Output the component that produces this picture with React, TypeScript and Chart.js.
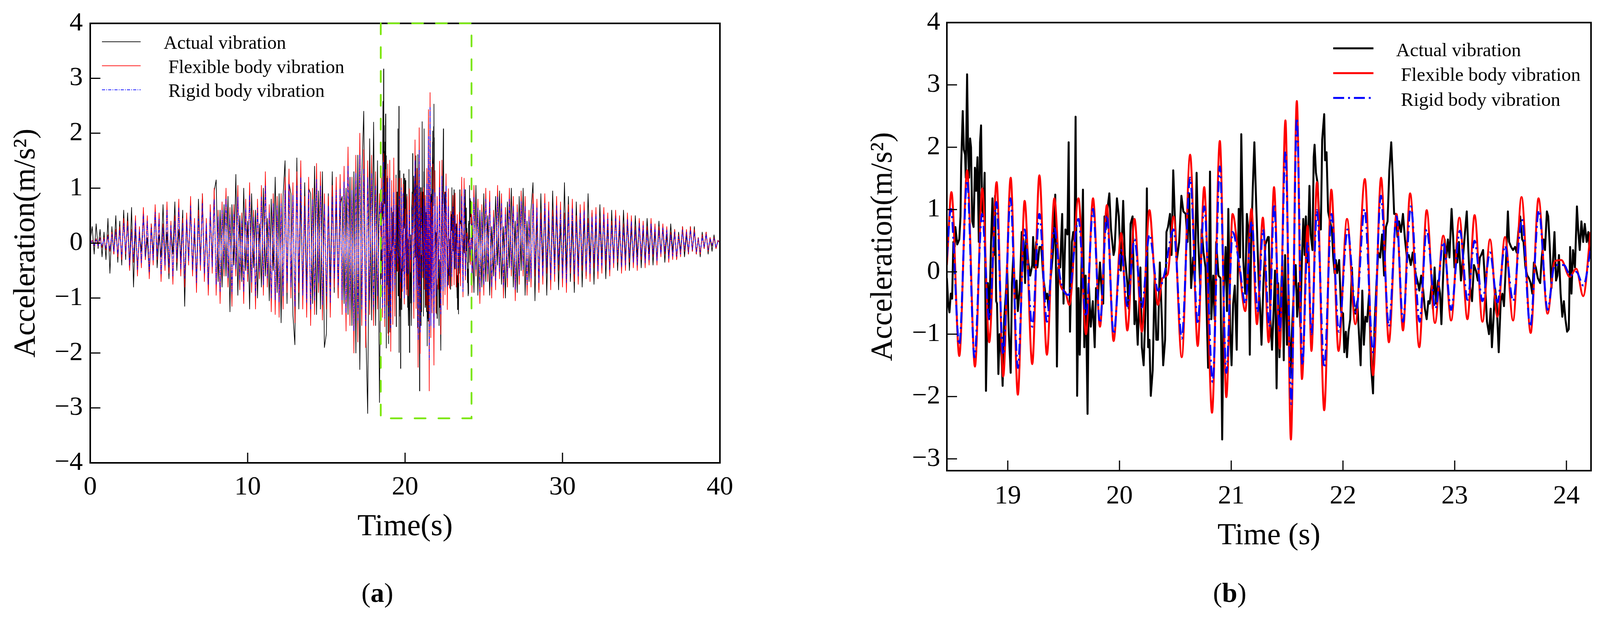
import { useEffect, useRef } from "react"
import { Chart, registerables } from "chart.js"

Chart.register(...registerables)

const SERIF = "'Liberation Serif', 'Times New Roman', serif"
Chart.defaults.font.family = SERIF
Chart.defaults.color = "#000"

const SERIES_LABELS = ["Actual vibration", " Flexible body vibration", " Rigid body vibration"]

// (a) whole record
const A_X_TICKS = [0, 10, 20, 30, 40]
const A_Y_TICKS = [-4, -3, -2, -1, 0, 1, 2, 3, 4]
// (b) zoomed window (also the green box on (a))
const B_X_RANGE = [18.455, 24.22]
const B_Y_RANGE = [-3.19, 4]
const B_X_TICKS = [19, 20, 21, 22, 23, 24]
const B_Y_TICKS = [-3, -2, -1, 0, 1, 2, 3, 4]

// (a) outside the window: read every 0.125 s
const A_STEP = 0.125
const A_HEAD_START = 0
const A_TAIL_START = 24.25

const A_ACTUAL_HEAD = [
  0.05, 0.3, -0.2, 0.35, -0.1, 0.25, -0.25, 0.2,
  -0.3, 0.45, -0.55, 0.3, -0.2, 0.5, -0.35, 0.4,
  -0.4, 0.6, -0.3, 0.55, -0.45, 0.65, -0.8, 0.3,
  -0.5, 0.2, -0.15, 0.55, -0.3, 0.1, -0.6, 0.35,
  -0.2, 0.6, -0.45, 0.15, -0.25, 0.7, -0.4, 0.2,
  -0.65, 0.3, -0.2, 0.75, -0.5, 0.25, -0.3, 0.6,
  -1.15, 0.45, -0.3, 0.65, -0.55, 0.2, -0.7, 0.8,
  -0.4, 0.9, -0.6, 0.3, -0.85, 0.6, -0.35, 0.95,
  1.15, -0.7, 0.6, -0.8, 0.7, -0.6, 0.85, -1.25,
  0.7, -0.4, 1.25, -0.95, 0.5, -0.7, 1.0, -0.5,
  0.4, -1.2, 0.9, -0.45, 0.6, -1.0, 0.35, -0.8,
  1.0, -0.6, 0.45, -1.05, 0.8, -0.5, 1.2, -0.9,
  0.9, -1.45, 0.85, 1.5, -1.1, 1.1, 0.9, -1.3,
  -1.85, 1.55, -1.2, 0.9, -1.0, 1.1, -0.9, 1.0,
  0.9, -1.1, 1.4, -1.3, 0.95, -1.2, 1.3, -1.9,
  -1.65, 0.9, -0.8, 1.3, -0.9, 0.8, -1.0, 0.7,
  0.85, -1.1, 1.0, -1.3, 1.2, -1.5, 1.3, -2.0,
  1.6, -2.3, 1.2, 2.4, -1.5, -3.1, 1.9, -1.4,
  2.2, -1.5, 1.5, -2.9,
]
const A_FLEXIBLE_HEAD = [
  0.0, 0.05, -0.05, 0.08, -0.06, 0.1, -0.08, 0.1,
  -0.12, 0.15, -0.15, 0.2, -0.2, 0.25, -0.25, 0.3,
  -0.3, 0.45, -0.2, 0.4, -0.5, 0.25, -0.35, 0.5,
  -0.6, 0.3, -0.45, 0.65, -0.3, 0.5, -0.65, 0.35,
  -0.4, 0.7, -0.3, 0.55, -0.7, 0.35, -0.5, 0.75,
  -0.55, 0.4, -0.75, 0.5, -0.35, 0.8, -0.6, 0.45,
  -0.8, 0.55, -0.4, 0.85, -0.6, 0.45, -0.9, 0.6,
  -0.5, 0.9, -0.7, 0.45, -0.95, 0.7, -0.55, 1.0,
  -0.95, 0.6, -1.1, 0.75, -0.6, 1.0, -0.8, 0.65,
  -1.15, 0.7, -0.6, 1.05, -0.85, 0.55, -1.1, 0.8,
  -0.7, 1.1, -0.9, 0.6, -1.2, 0.8, -0.65, 1.05,
  -0.95, 1.3, -0.8, 0.7, -1.25, 0.9, -1.3, 0.85,
  -1.35, 0.9, -1.2, 1.2, -0.9, 1.35, -1.0, 1.1,
  -1.45, 1.3, -0.9, 1.5, -1.2, 0.85, -1.35, 1.2,
  -1.5, 1.0, -1.3, 1.45, -0.9, 1.3, -1.4, 0.9,
  -1.2, 0.85, -1.35, 1.05, -0.8, 1.2, -1.0, 1.25,
  -1.3, 1.4, -1.6, 1.75, -1.5, 1.2, -2.0, 1.6,
  -1.8, 2.0, -1.5, 1.7, -1.9, 1.5, -1.3, 1.6,
  -1.5, 1.3, -1.2, 0.9,
]
const A_RIGID_HEAD = [
  0.0, 0.04, -0.04, 0.06, -0.05, 0.08, -0.06, 0.08,
  -0.1, 0.12, -0.12, 0.16, -0.16, 0.2, -0.2, 0.24,
  -0.24, 0.36, -0.16, 0.32, -0.4, 0.2, -0.28, 0.4,
  -0.48, 0.24, -0.36, 0.52, -0.24, 0.4, -0.52, 0.28,
  -0.32, 0.56, -0.24, 0.44, -0.56, 0.28, -0.4, 0.6,
  -0.44, 0.32, -0.6, 0.4, -0.28, 0.64, -0.48, 0.36,
  -0.64, 0.44, -0.32, 0.68, -0.48, 0.36, -0.72, 0.48,
  -0.4, 0.72, -0.56, 0.36, -0.76, 0.56, -0.44, 0.8,
  -0.76, 0.48, -0.88, 0.6, -0.48, 0.8, -0.64, 0.52,
  -0.92, 0.56, -0.48, 0.84, -0.68, 0.44, -0.88, 0.64,
  -0.56, 0.88, -0.72, 0.48, -0.96, 0.64, -0.52, 0.84,
  -0.76, 1.04, -0.64, 0.56, -1.0, 0.72, -1.04, 0.68,
  -1.08, 0.72, -0.96, 0.96, -0.72, 1.08, -0.8, 0.88,
  -1.16, 1.04, -0.72, 1.2, -0.96, 0.68, -1.08, 0.96,
  -1.2, 0.8, -1.04, 1.16, -0.72, 1.04, -1.12, 0.72,
  -0.96, 0.68, -1.08, 0.84, -0.64, 0.96, -0.8, 1.0,
  -1.04, 1.12, -1.28, 1.4, -1.2, 0.96, -1.6, 1.28,
  -1.44, 1.6, -1.2, 1.36, -1.52, 1.2, -1.04, 1.28,
  -1.2, 1.04, -0.96, 0.72,
]

const A_ACTUAL_TAIL = [
  0.4, -0.9, 1.05, -0.95, 0.6, -0.8, 0.9, -0.7,
  0.5, -0.95, 0.3, -0.6, 0.85, -0.4, 0.95, -0.75,
  0.3, -1.0, 0.75, -0.45, 1.0, -0.8, 0.4, -0.9,
  0.85, -0.5, 1.0, -0.95, 0.4, -0.7, 0.6, 1.1,
  -1.05, 0.5, -0.85, 0.9, -0.4, 0.7, -0.95, 0.45,
  -0.7, 0.95, -0.4, 0.6, -0.85, 0.35, -0.6, 1.1,
  -0.5, 0.85, -0.7, 0.4, -0.9, 0.75, -0.45, 0.6,
  -0.8, 0.45, -0.6, 0.9, -0.35, 0.55, -0.75, 0.4,
  -0.45, 0.7, -0.3, 0.55, -0.65, 0.35, -0.55, 0.6,
  -0.35, 0.55, -0.5, 0.3, -0.45, 0.6, -0.3, 0.4,
  -0.5, 0.3, -0.35, 0.5, -0.25, 0.4, -0.45, 0.25,
  -0.3, 0.45, -0.2, 0.35, -0.4, 0.2, -0.3, 0.4,
  -0.2, 0.3, -0.35, 0.15, -0.25, 0.35, -0.15, 0.25,
  -0.3, 0.2, -0.15, 0.3, -0.25, 0.15, -0.2, 0.3,
  -0.15, 0.3, -0.2, 0.1, -0.25, 0.2, -0.1, 0.2,
  -0.2, 0.1, -0.15, 0.15, -0.1, 0.05, 0.0,
]
const A_FLEXIBLE_TAIL = [
  -0.9, 1.05, -0.6, 0.8, -1.1, 0.7, -0.95, 1.0,
  -0.7, 0.95, -1.0, 0.6, -0.85, 1.05, -0.65, 0.9,
  -1.0, 0.65, -0.8, 1.0, -0.6, 0.85, -1.05, 0.7,
  -0.75, 0.95, -0.6, 0.85, -0.95, 0.6, -0.8, 0.9,
  -0.6, 0.8, -0.9, 0.55, -0.75, 0.9, -0.55, 0.75,
  -0.85, 0.6, -0.7, 0.85, -0.5, 0.75, -0.8, 0.55,
  -0.9, 0.7, -0.55, 0.8, -0.7, 0.5, -0.75, 0.7,
  -0.5, 0.75, -0.65, 0.45, -0.7, 0.6, -0.45, 0.65,
  -0.65, 0.45, -0.55, 0.65, -0.4, 0.55, -0.6, 0.4,
  -0.45, 0.6, -0.35, 0.5, -0.55, 0.35, -0.5, 0.55,
  -0.35, 0.5, -0.45, 0.3, -0.5, 0.45, -0.3, 0.4,
  -0.45, 0.3, -0.4, 0.45, -0.25, 0.35, -0.4, 0.3,
  -0.25, 0.35, -0.2, 0.3, -0.35, 0.2, -0.3, 0.25,
  -0.3, 0.15, -0.25, 0.3, -0.15, 0.25, -0.2, 0.3,
  -0.15, 0.25, -0.2, 0.1, -0.2, 0.15, -0.1, 0.2,
  -0.15, 0.1, -0.05, 0.1, -0.1, 0.05, 0.0,
]
const A_RIGID_TAIL = [
  -0.72, 0.84, -0.48, 0.64, -0.88, 0.56, -0.76, 0.8,
  -0.56, 0.76, -0.8, 0.48, -0.68, 0.84, -0.52, 0.72,
  -0.8, 0.52, -0.64, 0.8, -0.48, 0.68, -0.84, 0.56,
  -0.6, 0.76, -0.48, 0.68, -0.76, 0.48, -0.64, 0.72,
  -0.48, 0.64, -0.72, 0.44, -0.6, 0.72, -0.44, 0.6,
  -0.68, 0.48, -0.56, 0.68, -0.4, 0.6, -0.64, 0.44,
  -0.72, 0.56, -0.44, 0.64, -0.56, 0.4, -0.6, 0.56,
  -0.4, 0.6, -0.52, 0.36, -0.56, 0.48, -0.36, 0.52,
  -0.52, 0.36, -0.44, 0.52, -0.32, 0.44, -0.48, 0.32,
  -0.36, 0.48, -0.28, 0.4, -0.44, 0.28, -0.4, 0.44,
  -0.28, 0.4, -0.36, 0.24, -0.4, 0.36, -0.24, 0.32,
  -0.36, 0.24, -0.32, 0.36, -0.2, 0.28, -0.32, 0.24,
  -0.2, 0.28, -0.16, 0.24, -0.28, 0.16, -0.24, 0.2,
  -0.24, 0.12, -0.2, 0.24, -0.12, 0.2, -0.16, 0.24,
  -0.12, 0.2, -0.16, 0.08, -0.16, 0.12, -0.08, 0.16,
  -0.12, 0.08, -0.04, 0.08, -0.08, 0.04, 0.0,
]

// (b) window: [time s, acceleration m/s2]
const B_ACTUAL = [
  [18.455, -0.1], [18.467, -0.51], [18.478, -0.65], [18.49, -0.35], [18.502, -0.43], [18.513, 0.48], [18.525, 0.4], [18.531, 0.72],
  [18.548, 0.44], [18.566, 0.52], [18.577, 0.89], [18.583, 1.71], [18.597, 2.58], [18.607, 1.96], [18.618, 1.88], [18.624, 1.51],
  [18.636, 3.17], [18.645, 1.96], [18.653, 1.51], [18.663, 2.14], [18.671, 2.0], [18.682, 0.81], [18.694, 0.72], [18.706, 1.67],
  [18.717, 1.3], [18.729, 1.84], [18.741, 0.48], [18.752, 2.08], [18.761, 2.35], [18.77, 1.05], [18.781, 0.89], [18.793, 1.59],
  [18.805, -1.91], [18.822, -0.18], [18.834, -0.76], [18.851, 0.52], [18.863, 1.18], [18.875, 0.27], [18.886, 1.22], [18.896, -0.47],
  [18.904, -0.51], [18.916, -1.64], [18.927, -1.0], [18.945, -1.37], [18.954, -1.83], [18.968, -0.76], [18.986, -0.26], [18.994, 0.11],
  [19.009, -0.96], [19.026, -1.62], [19.038, -0.18], [19.05, 0.27], [19.067, -0.43], [19.079, -0.14], [19.09, -0.63], [19.108, -0.26],
  [19.125, 0.64], [19.143, 0.48], [19.155, -0.18], [19.166, 0.64], [19.184, 0.15], [19.201, -0.06], [19.219, 0.11], [19.227, 0.56],
  [19.236, 0.07], [19.254, 0.48], [19.265, 0.07], [19.283, 0.4], [19.3, 0.4], [19.318, -0.1], [19.33, -0.26], [19.341, -0.43],
  [19.353, -0.35], [19.364, -0.59], [19.382, -0.14], [19.399, 0.19], [19.411, 0.48], [19.425, 1.24], [19.44, -1.52], [19.452, 0.07],
  [19.469, 0.07], [19.487, 0.93], [19.499, -0.51], [19.516, 0.68], [19.534, 0.6], [19.545, 2.08], [19.557, -0.96], [19.574, 0.48],
  [19.586, 0.64], [19.598, 0.48], [19.607, 2.49], [19.621, -1.99], [19.633, -0.26], [19.644, -1.33], [19.656, -0.26], [19.673, 1.32],
  [19.685, -1.21], [19.697, -0.06], [19.714, -2.28], [19.726, -0.22], [19.743, -0.88], [19.761, -0.47], [19.778, -1.21], [19.79, -0.26],
  [19.807, -0.43], [19.825, 0.15], [19.842, -0.35], [19.854, -0.51], [19.866, 0.89], [19.877, 0.68],
  [19.895, 1.05], [19.909, 1.26], [19.924, 0.68], [19.947, 0.27], [19.956, 0.35], [19.977, 1.18], [19.994, 0.89], [20.012, 0.02],
  [20.033, 1.14], [20.047, 0.27], [20.07, -0.18], [20.082, -0.59], [20.099, 0.77], [20.117, 0.89], [20.134, -0.84], [20.146, -0.47],
  [20.163, -1.17], [20.187, 0.07], [20.2, -1.21], [20.216, -1.5], [20.233, -0.59], [20.245, 1.34], [20.256, -1.21], [20.268, -1.09],
  [20.28, -1.99], [20.297, -1.58], [20.315, -0.02], [20.329, -1.09], [20.344, -1.09], [20.361, 0.15], [20.379, -0.76], [20.391, -1.5],
  [20.408, -1.09], [20.42, 0.64], [20.434, 0.72], [20.452, 0.93], [20.466, 0.27], [20.481, 1.63], [20.495, 0.89], [20.513, 0.19],
  [20.534, 0.48], [20.554, 1.22], [20.571, 0.97], [20.592, 0.93], [20.609, 0.48], [20.624, 1.26], [20.641, -0.26], [20.659, 0.23],
  [20.674, -0.18], [20.69, 1.59], [20.705, 0.48], [20.723, -0.26], [20.735, 0.68], [20.752, 0.31], [20.77, 0.07], [20.793, -1.54],
  [20.81, 1.61], [20.822, -0.76], [20.839, -0.06], [20.851, -0.76], [20.865, 0.48], [20.886, -0.06], [20.904, -0.1], [20.919, -2.69],
  [20.933, -0.35], [20.95, 0.4], [20.962, -0.63], [20.974, 1.01], [20.991, -0.96], [21.003, -1.5], [21.017, -0.51], [21.032, -0.22],
  [21.049, -1.25], [21.067, 1.01], [21.079, 0.23], [21.09, 2.21], [21.108, 0.19], [21.125, -0.35], [21.14, 0.93], [21.154, 0.64],
  [21.166, -1.33], [21.178, 0.44], [21.192, 1.3], [21.207, 2.08], [21.224, 1.05], [21.247, -0.22], [21.259, -0.59], [21.271, -1.17],
  [21.288, -0.18], [21.306, 0.44], [21.329, 0.56],
  [21.336, 0.56], [21.35, -0.76], [21.365, -1.25], [21.38, -0.59], [21.392, 0.02], [21.406, -1.87], [21.42, -0.18], [21.432, -1.37],
  [21.447, -0.26], [21.458, 0.19], [21.47, -1.42], [21.482, 0.27], [21.499, -1.17], [21.513, -0.3], [21.528, -1.7], [21.546, -0.84],
  [21.56, -0.3], [21.577, 0.11], [21.59, -0.72], [21.604, -0.18], [21.618, -0.88], [21.633, 0.23], [21.645, 0.85], [21.657, 0.27],
  [21.668, 0.89], [21.683, 0.15], [21.7, 1.38], [21.711, 0.6], [21.727, 0.35], [21.738, 1.84], [21.746, 2.04], [21.758, 1.59],
  [21.773, 1.42], [21.791, 0.72], [21.802, 0.68], [21.814, 2.12], [21.832, 2.53], [21.84, 1.79], [21.853, 1.92], [21.867, 0.97],
  [21.884, 0.81], [21.901, 0.68], [21.913, 0.23], [21.925, -0.02], [21.936, 0.19], [21.948, -0.02], [21.966, 0.19], [21.983, -0.63],
  [22.001, -0.67], [22.012, -1.29], [22.026, -0.96], [22.036, -1.37], [22.05, -0.96], [22.065, -0.76], [22.08, 0.07], [22.094, -0.59],
  [22.111, -0.67], [22.129, -0.47], [22.141, -0.92], [22.158, -1.5], [22.173, -0.3], [22.187, -1.17], [22.201, -0.72], [22.216, -0.8],
  [22.234, -0.35], [22.251, -1.5], [22.269, -1.95], [22.283, -0.84], [22.301, -0.14], [22.316, 0.31], [22.333, 0.23], [22.35, 0.6],
  [22.368, -0.06], [22.385, 0.72], [22.399, 0.81], [22.415, 1.63], [22.432, 2.08], [22.446, 1.51], [22.458, 0.93], [22.473, 0.93],
  [22.488, 0.56], [22.502, 0.81], [22.519, 0.64], [22.537, 0.93], [22.555, 0.52], [22.572, 0.23], [22.589, 0.27], [22.607, 0.11],
  [22.624, 0.31], [22.64, 0.07], [22.654, -0.06], [22.671, -0.18], [22.683, -0.3], [22.7, -0.06], [22.718, -0.3], [22.733, -0.59],
  [22.749, -0.76], [22.764, -0.47],
  [22.776, -0.51], [22.793, -0.22], [22.805, -0.59], [22.82, 0.07], [22.834, -0.51], [22.852, -0.14], [22.869, -0.35], [22.881, -0.84],
  [22.893, -0.22], [22.91, 0.52], [22.925, 0.23], [22.939, 0.52], [22.953, 0.23], [22.972, 1.01], [22.986, 0.56], [22.998, 0.07],
  [23.009, 0.35], [23.023, 0.15], [23.038, 0.48], [23.056, -0.14], [23.07, 0.15], [23.085, 0.48], [23.108, 0.97], [23.123, 0.31],
  [23.137, -0.22], [23.155, -0.47], [23.172, 0.11], [23.19, 0.02], [23.207, -0.14], [23.225, 0.23], [23.237, 0.27], [23.254, 0.35],
  [23.272, -0.18], [23.289, -0.8], [23.307, -1.0], [23.322, -0.59], [23.333, -1.21], [23.347, -0.76], [23.361, -0.26], [23.376, -0.51],
  [23.394, -1.29], [23.412, -0.47], [23.427, -0.35], [23.441, -0.55], [23.458, 0.11], [23.476, 0.97], [23.487, 0.48], [23.505, 0.4],
  [23.522, 0.35], [23.54, 0.4], [23.555, 0.31], [23.569, 0.64], [23.586, 0.89], [23.604, 0.52], [23.616, 0.48], [23.633, 0.07],
  [23.65, -0.06], [23.664, -0.1], [23.68, -0.18], [23.695, -0.35], [23.709, 0.15], [23.726, 0.07], [23.744, -0.1], [23.765, -0.18],
  [23.779, 0.23], [23.796, 0.52], [23.808, 0.35], [23.825, 0.97], [23.837, 0.89], [23.849, 0.48], [23.866, -0.26], [23.878, 0.11],
  [23.893, 0.64], [23.907, -0.14], [23.919, -0.06], [23.933, 0.27], [23.948, -0.35], [23.963, -0.72], [23.977, -0.47], [23.991, -0.76],
  [24.006, -0.96], [24.021, -0.92], [24.033, 0.4], [24.045, -0.35], [24.059, 0.35], [24.076, 0.07], [24.094, 1.05], [24.105, 0.68],
  [24.119, 0.35], [24.134, 0.81], [24.15, 0.48], [24.164, 0.77], [24.181, 0.48], [24.196, 0.64], [24.21, 0.23], [24.228, 0.52],
]
const B_FLEXIBLE = [
  [18.455, 0.11], [18.496, 1.28], [18.566, -1.35], [18.636, 1.63], [18.706, -1.52], [18.772, 1.34], [18.834, -1.13], [18.9, 1.44],
  [18.959, -1.68], [19.026, 1.51], [19.09, -1.97], [19.151, 1.14], [19.219, -1.48], [19.283, 1.55], [19.35, -1.33], [19.417, 1.18],
  [19.469, -0.18], [19.516, -0.33], [19.551, -0.53], [19.633, 1.18], [19.7, -1.0], [19.763, 1.18], [19.825, -0.88], [19.887, 1.07],
  [19.947, -1.11], [20.015, 0.62], [20.07, -0.94], [20.134, 0.85], [20.2, -0.96], [20.268, 0.99], [20.315, -0.1], [20.344, -0.53],
  [20.385, -0.1], [20.431, -0.04], [20.484, 0.89], [20.557, -1.37], [20.632, 1.88], [20.7, -1.19], [20.758, 1.36], [20.828, -2.26],
  [20.898, 2.1], [20.956, -2.01], [21.012, 0.93], [21.073, 0.07], [21.125, -0.63], [21.181, 1.01], [21.23, -0.84], [21.283, 0.87],
  [21.335, -1.13], [21.383, 1.36], [21.435, -1.23], [21.485, 2.43], [21.534, -2.69], [21.587, 2.74], [21.633, -1.72], [21.683, 0.74],
  [21.718, -1.27], [21.767, 1.44], [21.832, -2.22], [21.896, 1.32], [21.96, -1.27], [22.036, 0.85], [22.111, -0.84], [22.196, 1.49],
  [22.269, -1.66], [22.341, 1.51], [22.411, -1.13], [22.479, 0.93], [22.537, -0.94], [22.601, 1.26], [22.683, -1.21], [22.749, 0.99],
  [22.823, -0.82], [22.898, 0.58], [22.968, -0.78], [23.042, 0.87], [23.114, -0.76], [23.178, 0.91], [23.248, -0.8], [23.316, 0.52],
  [23.382, -0.72], [23.45, 0.56], [23.522, -0.78], [23.598, 1.2], [23.68, -0.98], [23.75, 1.18], [23.831, -0.67], [23.895, 0.17],
  [23.954, 0.19], [24.029, -0.08], [24.088, 0.05], [24.15, -0.39], [24.216, 0.64],
]
const B_RIGID = [
  [18.455, 0.23], [18.49, 1.01], [18.566, -1.17], [18.636, 1.47], [18.702, -1.37], [18.77, 0.93], [18.834, -0.76], [18.898, 1.12],
  [18.959, -1.33], [19.024, 1.18], [19.09, -1.54], [19.151, 0.68], [19.219, -0.88], [19.283, 0.93], [19.35, -0.8], [19.417, 0.7],
  [19.469, -0.1], [19.545, -0.37], [19.633, 0.85], [19.7, -0.72], [19.763, 1.01], [19.825, -0.82], [19.887, 0.91],
  [19.947, -1.0], [20.015, 0.35], [20.07, -0.55], [20.134, 0.52], [20.2, -0.57], [20.268, 0.6], [20.344, -0.3], [20.396, -0.08],
  [20.484, 0.68], [20.557, -1.07], [20.632, 1.51], [20.7, -0.84], [20.758, 1.05], [20.834, -1.77], [20.898, 1.69], [20.956, -1.62],
  [21.012, 0.64], [21.073, 0.11], [21.125, -0.51], [21.183, 0.81], [21.236, -0.65], [21.285, 0.68], [21.341, -0.88],
  [21.383, 1.09], [21.435, -0.96], [21.485, 1.94], [21.537, -2.12], [21.587, 2.47], [21.637, -1.5], [21.683, 0.48], [21.718, -1.0],
  [21.767, 0.99], [21.832, -1.54], [21.898, 0.93], [21.963, -0.96], [22.041, 0.68], [22.117, -0.65], [22.193, 1.01], [22.269, -1.29],
  [22.339, 1.22], [22.411, -0.88], [22.479, 0.89], [22.537, -0.8], [22.607, 1.05], [22.686, -0.8], [22.749, 0.68],
  [22.828, -0.59], [22.898, 0.48], [22.968, -0.61], [23.047, 0.66], [23.114, -0.45], [23.178, 0.5], [23.248, -0.47], [23.316, 0.31],
  [23.382, -0.49], [23.45, 0.42], [23.522, -0.47], [23.602, 0.85], [23.676, -0.88], [23.753, 0.99], [23.831, -0.61], [23.895, 0.11],
  [23.977, 0.11], [24.035, -0.06], [24.088, 0.0], [24.152, -0.22], [24.216, 0.35],
]

const sampled = (start: number, values: number[]) => values.map((y, i) => ({ x: start + i * A_STEP, y }))
const pairs = (rows: number[][]) => rows.map(([x, y]) => ({ x, y }))
const fullRecord = (head: number[], window: number[][], tail: number[]) => [
  ...sampled(A_HEAD_START, head),
  ...pairs(window),
  ...sampled(A_TAIL_START, tail),
]

const fmt = (v: number | string) => {
  const n = Number(v)
  return n < 0 ? "\u2212" + Math.abs(n) : String(n)
}

// box, inward ticks
const framePlugin = {
  id: "frame",
  afterDraw(chart: any, _args: any, opts: any) {
    const { ctx, chartArea, scales } = chart
    const { left, right, top, bottom } = chartArea
    ctx.save()
    ctx.strokeStyle = "#000"
    ctx.lineWidth = opts.border
    ctx.strokeRect(left, top, right - left, bottom - top)
    ctx.lineWidth = opts.tickWidth
    ctx.beginPath()
    for (const v of opts.yTicks) {
      const y = scales.y.getPixelForValue(v)
      if (y < top + 3 || y > bottom - 3) continue
      ctx.moveTo(left, y)
      ctx.lineTo(left + opts.tickLength, y)
    }
    for (const v of opts.xTicks) {
      const x = scales.x.getPixelForValue(v)
      if (x < left + 3 || x > right - 3) continue
      ctx.moveTo(x, bottom)
      ctx.lineTo(x, bottom - opts.tickLength)
    }
    ctx.stroke()
    ctx.restore()
  },
}

const windowBoxPlugin = {
  id: "windowBox",
  afterDraw(chart: any, _args: any, opts: any) {
    if (!opts.show) return
    const { ctx, scales } = chart
    const x1 = scales.x.getPixelForValue(opts.xRange[0])
    const x2 = scales.x.getPixelForValue(opts.xRange[1])
    const y1 = scales.y.getPixelForValue(opts.yRange[1])
    const y2 = scales.y.getPixelForValue(opts.yRange[0])
    ctx.save()
    ctx.strokeStyle = "#7be60a"
    ctx.lineWidth = 4.5
    ctx.lineCap = "round"
    ctx.setLineDash([28, 33])
    ctx.beginPath()
    ctx.moveTo(x1, y1)
    ctx.lineTo(x1, y2)
    ctx.lineTo(x2, y2)
    ctx.lineTo(x2, y1)
    ctx.closePath()
    ctx.stroke()
    ctx.restore()
  },
}

const legendPlugin = {
  id: "lineLegend",
  afterDraw(chart: any, _args: any, opts: any) {
    const { ctx, chartArea } = chart
    const x0 = opts.fromRight ? chartArea.right + opts.x : chartArea.left + opts.x
    ctx.save()
    ctx.font = `${opts.size}px ${SERIF}`
    ctx.textBaseline = "middle"
    ctx.textAlign = "left"
    chart.data.datasets.forEach((ds: any, i: number) => {
      const y = chartArea.top + opts.y + i * opts.gap
      ctx.strokeStyle = ds.borderColor
      ctx.lineWidth = ds.borderWidth
      ctx.setLineDash(ds.borderDash || [])
      ctx.beginPath()
      ctx.moveTo(x0, y)
      ctx.lineTo(x0 + opts.lineLength, y)
      ctx.stroke()
      ctx.setLineDash([])
      ctx.fillStyle = "#000"
      ctx.fillText(ds.label, x0 + opts.textOffset, y + opts.textShift)
    })
    ctx.restore()
  },
}

function buildConfig(p: any): any {
  const tickFont = { family: SERIF, size: 68 }
  const titleFont = { family: SERIF, size: 78 }
  return {
    type: "line",
    data: {
      datasets: [
        { label: SERIES_LABELS[0], data: p.actual, borderColor: "#000000", borderWidth: p.lineWidth, order: 3, tension: 0 },
        { label: SERIES_LABELS[1], data: p.flexible, borderColor: "#ff0000", borderWidth: p.lineWidth, order: 2, cubicInterpolationMode: p.smooth ? "monotone" : "default" },
        { label: SERIES_LABELS[2], data: p.rigid, borderColor: "#0000ff", borderWidth: p.lineWidth, borderDash: p.dash, order: 1, cubicInterpolationMode: p.smooth ? "monotone" : "default" },
      ],
    },
    options: {
      animation: false,
      responsive: false,
      devicePixelRatio: 1,
      events: [],
      parsing: false,
      layout: { autoPadding: false, padding: p.padding },
      elements: { point: { radius: 0 }, line: { fill: false, borderJoinStyle: "round" } },
      plugins: {
        legend: { display: false },
        tooltip: { enabled: false },
        frame: { border: 4, tickWidth: 3, tickLength: p.tickLength, xTicks: p.xTicks, yTicks: p.yTicks },
        windowBox: { show: !!p.box, xRange: B_X_RANGE, yRange: B_Y_RANGE },
        lineLegend: p.legend,
      },
      scales: {
        x: {
          type: "linear",
          min: p.xMin,
          max: p.xMax,
          grid: { display: false, drawTicks: false },
          border: { display: false },
          afterBuildTicks: (s: any) => {
            s.ticks = p.xTicks.map((value: number) => ({ value }))
          },
          afterFit: (s: any) => {
            s.height = p.xAxisHeight
          },
          ticks: { padding: p.xTickPad, color: "#000", font: tickFont, maxRotation: 0, autoSkip: false, callback: fmt },
          title: { display: true, text: p.xTitle, color: "#000", font: titleFont, padding: { top: 0, bottom: p.xTitlePad } },
        },
        y: {
          type: "linear",
          min: p.yMin,
          max: p.yMax,
          grid: { display: false, drawTicks: false },
          border: { display: false },
          afterBuildTicks: (s: any) => {
            s.ticks = p.yTicks.map((value: number) => ({ value }))
          },
          afterFit: (s: any) => {
            s.width = p.yAxisWidth
          },
          ticks: { padding: p.yTickPad, color: "#000", font: tickFont, autoSkip: false, callback: fmt },
          title: { display: true, text: "Acceleration(m/s\u00b2)", color: "#000", font: titleFont, padding: { top: p.yTitlePad, bottom: 0 } },
        },
      },
    },
    plugins: [framePlugin, windowBoxPlugin, legendPlugin],
  }
}

const CANVAS_H = 1440

function buildA() {
  return buildConfig({
    actual: fullRecord(A_ACTUAL_HEAD, B_ACTUAL, A_ACTUAL_TAIL),
    flexible: fullRecord(A_FLEXIBLE_HEAD, B_FLEXIBLE, A_FLEXIBLE_TAIL),
    rigid: fullRecord(A_RIGID_HEAD, B_RIGID, A_RIGID_TAIL),
    lineWidth: 1.7,
    dash: [8, 3, 2, 3],
    smooth: false,
    box: true,
    padding: { left: 0, top: 58, right: 217, bottom: 0 },
    xMin: 0,
    xMax: 40,
    yMin: -4,
    yMax: 4,
    xTicks: A_X_TICKS,
    yTicks: A_Y_TICKS,
    tickLength: 26,
    xAxisHeight: CANVAS_H - 1185,
    yAxisWidth: 231,
    xTickPad: 22,
    yTickPad: 19,
    xTitle: "Time(s)",
    xTitlePad: 44,
    yTitlePad: 21,
    legend: { fromRight: false, x: 30, y: 47, gap: 61.5, lineLength: 99, textOffset: 158, textShift: 6, size: 48 },
  })
}

function buildB() {
  return buildConfig({
    actual: pairs(B_ACTUAL),
    flexible: pairs(B_FLEXIBLE),
    rigid: pairs(B_RIGID),
    lineWidth: 5,
    dash: [28, 10, 5, 10],
    smooth: true,
    box: false,
    padding: { left: 0, top: 47, right: 45, bottom: 0 },
    xMin: B_X_RANGE[0],
    xMax: B_X_RANGE[1],
    yMin: B_Y_RANGE[0],
    yMax: B_Y_RANGE[1],
    xTicks: B_X_TICKS,
    yTicks: B_Y_TICKS,
    tickLength: 26,
    xAxisHeight: CANVAS_H - 1205,
    yAxisWidth: 364,
    xTickPad: 25,
    yTickPad: 17,
    xTitle: "Time (s)",
    xTitlePad: 21,
    yTitlePad: 155,
    legend: { fromRight: true, x: -660, y: 66, gap: 63.5, lineLength: 103, textOffset: 161, textShift: 7, size: 49 },
  })
}

function ChartPanel({ build, left, width }: { build: () => any; left: number; width: number }) {
  const ref = useRef<HTMLCanvasElement>(null)

  useEffect(() => {
    if (!ref.current) return
    const chart = new Chart(ref.current, build())
    return () => chart.destroy()
  }, [build])

  return (
    <canvas
      ref={ref}
      width={width}
      height={CANVAS_H}
      style={{ position: "absolute", left, top: 0, width, height: CANVAS_H }}
    />
  )
}

function Caption({ letter, x }: { letter: string; x: number }) {
  return (
    <div
      style={{
        position: "absolute",
        left: x,
        top: 1518,
        transform: "translate(-50%, -50%)",
        fontFamily: SERIF,
        fontSize: 70,
        lineHeight: 1,
        color: "#000",
        whiteSpace: "nowrap",
      }}
    >
      (<b>{letter}</b>)
    </div>
  )
}

export default function App() {
  return (
    <div style={{ position: "absolute", left: 0, top: 0, width: 4118, height: 1595, background: "#fff", overflow: "hidden" }}>
      <ChartPanel build={buildA} left={0} width={2060} />
      <ChartPanel build={buildB} left={2060} width={2058} />
      <Caption letter="a" x={966} />
      <Caption letter="b" x={3148} />
    </div>
  )
}
